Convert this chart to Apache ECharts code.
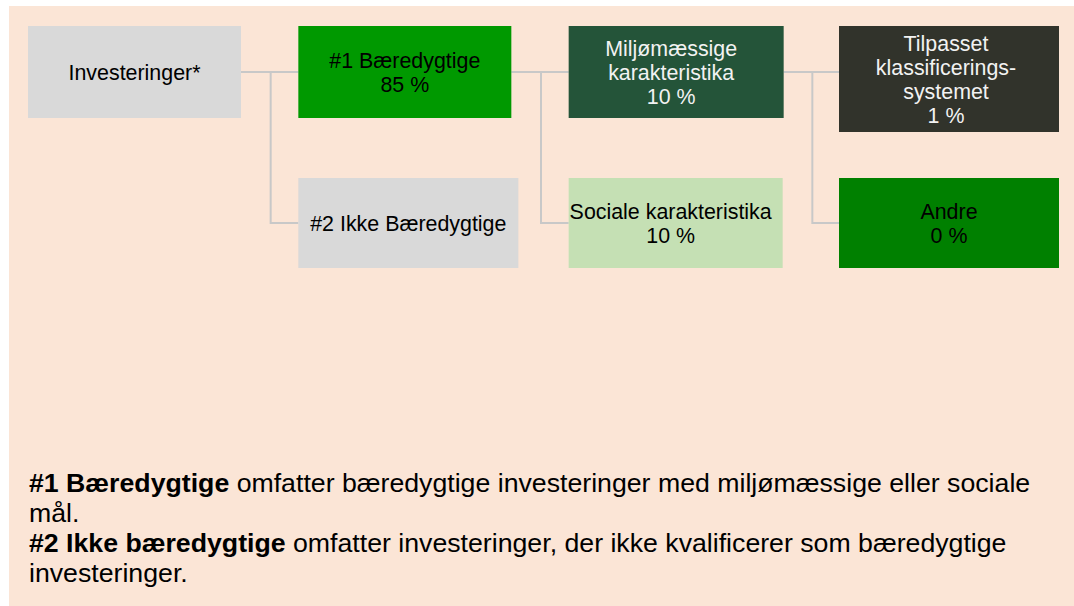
<!DOCTYPE html>
<html>
<head>
<meta charset="utf-8">
<script src="https://cdn.jsdelivr.net/npm/echarts@6/dist/echarts.min.js"></script>
<style>
  html, body { margin: 0; padding: 0; background: #ffffff; }
  #chart { width: 1074px; height: 606px; }
</style>
</head>
<body>
<div id="chart"></div>
<script>
// ---- data ----
const nodeNames = ['Investeringer*', '#1 Bæredygtige', '#2 Ikke Bæredygtige', 'Miljømæssige\nkarakteristika', 'Sociale karakteristika', 'Tilpasset\nklassificerings-\nsystemet', 'Andre'];
const nodeShares = [null, 85, null, 10, 10, 1, 0];
const nodeLevels = [0, 1, 1, 2, 2, 3, 3];
const nodeRows = [0, 0, 1, 0, 1, 0, 1];
const nodeParents = [-1, 0, 0, 1, 1, 3, 3];
const footnoteBold = ['#1 Bæredygtige', '#2 Ikke bæredygtige'];
const footnoteText = [' omfatter bæredygtige investeringer med miljømæssige eller sociale\nmål.', ' omfatter investeringer, der ikke kvalificerer som bæredygtige\ninvesteringer.'];

// ---- styles ----
const boxFill = ['#D9D9D9', '#009900', '#D9D9D9', '#245439', '#C5E0B4', '#31332B', '#008000'];
const boxTextColor = ['#000000', '#000000', '#000000', '#F2F2F2', '#000000', '#F2F2F2', '#000000'];
const boxWidth = [213, 213, 220, 215, 214, 220, 220];
const boxHeight = [92, 92, 90, 92, 90, 106, 90];
const boxTextShift = [0, 0, 0, -5, -5, -3, 0];
const FONT = '"Liberation Sans", Arial, sans-serif';
const BOX_FONT_SIZE = 21.4;
const NOTE_FONT_SIZE = 26.7;

const boxData = nodeNames.map((n, i) => ({
  value: [nodeLevels[i], nodeRows[i], i],
  name: n
}));
const linkData = [];
nodeParents.forEach((p, i) => {
  if (p >= 0) linkData.push({ value: [nodeLevels[i], nodeRows[i], nodeLevels[p], nodeRows[p], i, p] });
});

const footnote = footnoteBold.map((b, i) => '{b|' + b + '}' + footnoteText[i].split('\n').map(s => '{r|' + s + '}').join('\n')).join('\n');

const chart = echarts.init(document.getElementById('chart'), null, { renderer: 'svg' });
chart.setOption({
  animation: false,
  backgroundColor: '#ffffff',
  graphic: [{
    type: 'rect', left: 9, top: 6, z: -10,
    shape: { width: 1065, height: 600 },
    style: { fill: '#FBE5D6' }
  }],
  title: {
    left: 29, top: 468, padding: 0,
    text: footnote,
    textStyle: {
      fontFamily: FONT, fontSize: NOTE_FONT_SIZE, lineHeight: 30, color: '#000000', fontWeight: 'normal',
      rich: {
        b: { fontFamily: FONT, fontSize: NOTE_FONT_SIZE, lineHeight: 30, fontWeight: 'bold', color: '#000000' },
        r: { fontFamily: FONT, fontSize: NOTE_FONT_SIZE, lineHeight: 30, fontWeight: 'normal', color: '#000000' }
      }
    }
  },
  grid: { left: 28, top: 26, right: 235, bottom: 428 },
  xAxis: { type: 'value', min: 0, max: 3, show: false },
  yAxis: { type: 'value', min: 0, max: 1, inverse: true, show: false },
  series: [
    {
      type: 'custom',
      name: 'links',
      clip: false,
      silent: true,
      data: linkData,
      renderItem: function (params, api) {
        const ci = api.value(4), pi = api.value(5);
        const cTL = api.coord([api.value(0), api.value(1)]);
        const pTL = api.coord([api.value(2), api.value(3)]);
        const px = pTL[0] + boxWidth[pi];
        const py = pTL[1] + boxHeight[pi] / 2;
        const cx = cTL[0];
        const cy = cTL[1] + boxHeight[ci] / 2;
        const mx = (px + cx) / 2 + 1;
        const pts = api.value(1) === api.value(3)
          ? [[px, py], [cx, py]]
          : [[mx, py], [mx, cy], [cx, cy]];
        return {
          type: 'polyline',
          shape: { points: pts },
          style: { stroke: '#C8C8C8', lineWidth: 2, fill: null }
        };
      }
    },
    {
      type: 'custom',
      name: 'boxes',
      clip: false,
      data: boxData,
      renderItem: function (params, api) {
        const i = api.value(2);
        const tl = api.coord([api.value(0), api.value(1)]);
        const w = boxWidth[i], h = boxHeight[i];
        const label = nodeNames[i] + (nodeShares[i] !== null ? '\n' + nodeShares[i] + ' %' : '');
        return {
          type: 'group',
          children: [
            {
              type: 'rect',
              shape: { x: tl[0], y: tl[1], width: w, height: h },
              style: { fill: boxFill[i] }
            },
            {
              type: 'text',
              style: {
                text: label,
                x: tl[0] + w / 2 + boxTextShift[i],
                y: tl[1] + h / 2 + 1,
                align: 'center',
                verticalAlign: 'middle',
                fontFamily: FONT,
                fontSize: BOX_FONT_SIZE,
                lineHeight: 24,
                fill: boxTextColor[i]
              }
            }
          ]
        };
      }
    }
  ]
});
</script>
</body>
</html>
